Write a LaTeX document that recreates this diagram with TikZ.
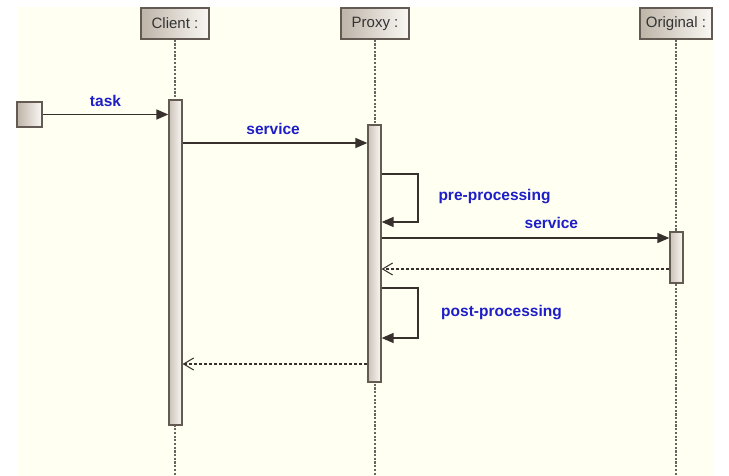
\documentclass[tikz,border=0pt]{standalone}
\usepackage{fontspec}
\setmainfont{Liberation Sans}
\usetikzlibrary{arrows.meta}
\definecolor{bgcream}{RGB}{255,255,242}
\definecolor{boxdark}{RGB}{190,180,168}
\definecolor{boxlight}{RGB}{250,248,244}
\definecolor{edgecol}{RGB}{100,90,84}
\definecolor{linecol}{RGB}{55,48,44}
\definecolor{lifecol}{RGB}{105,100,96}
\definecolor{msgblue}{RGB}{30,30,200}
\tikzset{
  obj/.style={draw=edgecol, line width=1.3pt, left color=boxdark, right color=boxlight, minimum height=31, minimum width=68, inner sep=0, font=\fontsize{15}{17}\selectfont, text=black!80},
  actbar/.style={draw=edgecol, line width=1.3pt, left color=boxdark!80, right color=boxlight, minimum width=13, inner sep=0},
  lifeline/.style={lifecol, line width=1.2pt, dash pattern=on 2.2pt off 1.5pt},
  msg/.style={linecol, line width=1.5pt, -{Triangle[length=12pt,width=10pt]}},
  reply/.style={linecol, line width=1.3pt, dash pattern=on 3pt off 2pt, -{Straight Barb[length=10pt,width=12pt,line width=1pt]}},
  lbl/.style={text=msgblue, font=\fontsize{15.5}{18}\selectfont\bfseries, inner sep=0}
}
\begin{document}
\begin{tikzpicture}[x=1pt,y=-1pt]
\useasboundingbox (0,0) rectangle (729,476);
\fill[bgcream] (17,7) rectangle (713,476);
\node[obj] (client) at (175,23.5) {Client :}; \node[obj] (proxy) at (375,23.5) {Proxy :}; \node[obj, minimum width=72] (orig) at (676,23.5) {Original :};
\foreach \o in {client,proxy,orig} { \draw[lifeline] (\o.south) -- (\o.south |- 0,476); }
\node[actbar, minimum height=325] (actC) at (175.5,262.5) {}; \node[actbar, minimum height=257] (actP) at (374.5,253.5) {}; \node[actbar, minimum height=51] (actO) at (676.5,257.5) {};
\node[draw=edgecol, line width=1.3pt, left color=boxdark, right color=boxlight, minimum size=25, inner sep=0] (start) at (29.5,114.5) {};
\draw[msg] (start.east) -- (actC.west |- start.east) node[lbl, midway, above=7pt] {task};
\draw[msg] (actC.east |- 0,143) -- (actP.west |- 0,143) node[lbl, pos=0.49, above=8pt] {service};
\draw[msg] (actP.east |- 0,174) -- (418,174) -- (418,222) -- (actP.east |- 0,222); \node[lbl] (pre) at (494.5,197) {pre-processing};
\draw[msg] (actP.east |- 0,238) -- (actO.west |- 0,238) node[lbl, pos=0.59, above=9pt] {service};
\draw[reply] (actO.west |- 0,269) -- (actP.east |- 0,269);
\draw[msg] (actP.east |- 0,288) -- (418,288) -- (418,338) -- (actP.east |- 0,338); \node[lbl] (post) at (501.5,313) {post-processing};
\draw[reply] (actP.west |- 0,364) -- (actC.east |- 0,364);
\end{tikzpicture}
\end{document}
